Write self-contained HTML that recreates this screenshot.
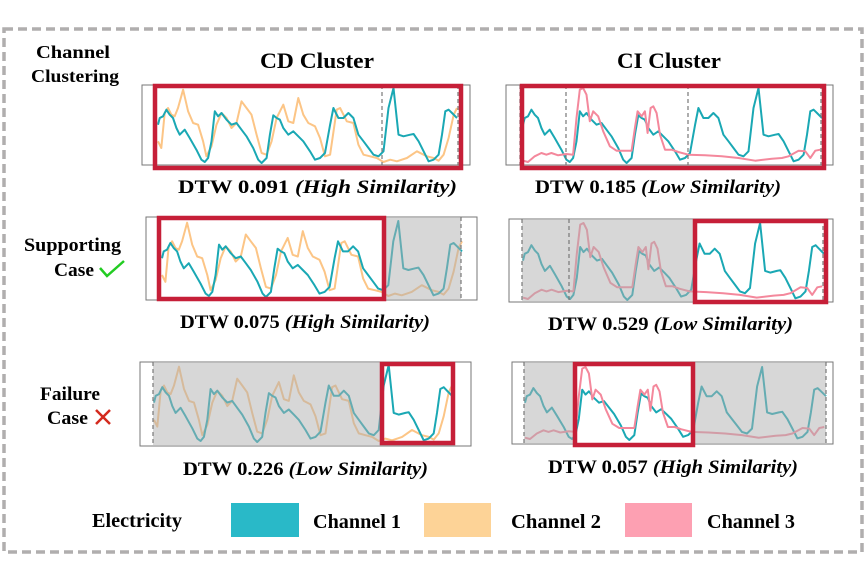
<!DOCTYPE html>
<html><head><meta charset="utf-8">
<style>
body{margin:0;background:#fff;}
svg{display:block;font-family:"Liberation Serif",serif;}
</style></head>
<body>
<svg id="fig" width="866" height="587" viewBox="0 0 866 587" xmlns="http://www.w3.org/2000/svg">
<rect x="4" y="29" width="858" height="523" fill="none" stroke="#b0aeae" stroke-width="3.5" stroke-dasharray="9,5"/>
<text x="36" y="58" font-size="18" font-weight="bold" textLength="74" lengthAdjust="spacingAndGlyphs">Channel</text>
<text x="31" y="82" font-size="18" font-weight="bold" textLength="88" lengthAdjust="spacingAndGlyphs">Clustering</text>
<text x="24" y="251" font-size="19" font-weight="bold" textLength="97" lengthAdjust="spacingAndGlyphs">Supporting</text>
<text x="54" y="276" font-size="19" font-weight="bold" textLength="40" lengthAdjust="spacingAndGlyphs">Case</text>
<path d="M100 268 L107 276 L124 261" fill="none" stroke="#22cc22" stroke-width="2.5"/>
<text x="40" y="400" font-size="19" font-weight="bold" textLength="60" lengthAdjust="spacingAndGlyphs">Failure</text>
<text x="47" y="424" font-size="19" font-weight="bold" textLength="41" lengthAdjust="spacingAndGlyphs">Case</text>
<path d="M96 410 L110 424 M110 410 L96 424" stroke="#d42a1e" stroke-width="2.5"/>
<text x="260" y="68" font-size="22" font-weight="bold" textLength="114" lengthAdjust="spacingAndGlyphs">CD Cluster</text>
<text x="617" y="68" font-size="22" font-weight="bold" textLength="104" lengthAdjust="spacingAndGlyphs">CI Cluster</text>
<g id="panels"></g>
<text x="178" y="193" font-size="19" font-weight="bold" textLength="279" lengthAdjust="spacingAndGlyphs">DTW 0.091 <tspan font-style="italic">(High Similarity)</tspan></text>
<text x="535" y="193" font-size="19" font-weight="bold" textLength="246" lengthAdjust="spacingAndGlyphs">DTW 0.185 <tspan font-style="italic">(Low Similarity)</tspan></text>
<text x="180" y="328" font-size="19" font-weight="bold" textLength="250" lengthAdjust="spacingAndGlyphs">DTW 0.075 <tspan font-style="italic">(High Similarity)</tspan></text>
<text x="548" y="330" font-size="19" font-weight="bold" textLength="245" lengthAdjust="spacingAndGlyphs">DTW 0.529 <tspan font-style="italic">(Low Similarity)</tspan></text>
<text x="183" y="475" font-size="19" font-weight="bold" textLength="245" lengthAdjust="spacingAndGlyphs">DTW 0.226 <tspan font-style="italic">(Low Similarity)</tspan></text>
<text x="548" y="473" font-size="19" font-weight="bold" textLength="250" lengthAdjust="spacingAndGlyphs">DTW 0.057 <tspan font-style="italic">(High Similarity)</tspan></text>
<text x="92" y="527" font-size="20" font-weight="bold" textLength="90" lengthAdjust="spacingAndGlyphs">Electricity</text>
<rect x="231" y="503" width="68" height="34" fill="#29b9c8"/>
<text x="313" y="528" font-size="20" font-weight="bold" textLength="88" lengthAdjust="spacingAndGlyphs">Channel 1</text>
<rect x="424" y="503" width="67" height="34" fill="#fdd397"/>
<text x="511" y="528" font-size="20" font-weight="bold" textLength="90" lengthAdjust="spacingAndGlyphs">Channel 2</text>
<rect x="625" y="503" width="67" height="34" fill="#fda0b2"/>
<text x="707" y="528" font-size="20" font-weight="bold" textLength="88" lengthAdjust="spacingAndGlyphs">Channel 3</text>
</svg>
<script>
// time steps and loads (arbitrary units, time 0..895, load 0..225)
const ch1Time=[0,5,15,25,35,45,55,65,80,95,115,130,140,150,160,170,180,190,205,220,235,250,265,285,300,310,325,335,345,355,365,375,390,405,420,435,455,470,485,500,515,525,540,555,570,585,600,615,630,645,660,675,690,705,720,735,755,765,780,795,810,825,840,850,860,870,880,895];
const ch1Load=[115,135,140,160,145,135,105,85,100,75,40,10,3,15,65,155,140,150,130,115,120,100,80,45,10,0,15,85,143,135,130,105,85,95,80,65,35,10,15,30,115,165,135,135,150,135,85,65,45,25,20,35,165,225,85,80,85,87,65,35,5,10,25,85,155,160,150,135];
const ch2Time=[0,10,20,30,40,50,60,75,90,105,120,135,145,160,175,190,205,220,235,250,265,280,295,310,325,340,355,375,390,405,420,435,450,470,485,500,515,535,545,565,585,600,615,635,655,675,695,715,745,775,805,825,840,855,870,885,895];
const ch2Load=[65,45,150,165,145,140,165,220,155,120,115,65,20,50,115,150,135,105,120,185,165,145,85,30,25,65,135,175,125,120,195,145,120,110,75,20,25,160,165,125,120,55,25,20,15,3,10,5,15,35,20,15,7,25,75,145,165,140];
const ch3Time=[0,15,35,55,70,85,105,130,150,160,170,180,190,200,210,225,240,260,280,305,325,335,343,355,365,373,382,390,400,410,425,445,465,495,545,595,645,695,745,775,795,825,845,860,875,890];
const ch3Load=[7,3,20,30,25,30,23,27,25,135,220,225,205,125,155,140,95,50,37,37,37,105,155,140,155,90,165,170,150,85,40,40,33,25,23,20,15,7,13,15,20,37,35,15,37,40];

const NS="http://www.w3.org/2000/svg";
const g=document.getElementById('panels');
function mk(tag,attrs){const e=document.createElementNS(NS,tag);for(const k in attrs)e.setAttribute(k,attrs[k]);g.appendChild(e);return e;}
const panels=[
 {id:'r1-cd',box:[142,85,470,165],d:[158,457,88,163],series:['c1','c2'],gray:[],dash:[382,458],red:[155,86,461,168]},
 {id:'r1-ci',box:[506,85,833,165],d:[523,822,88,163],series:['c1','c3'],gray:[],dash:[520,566,688,821],red:[522,86,824,168]},
 {id:'r2-cd',box:[146,217,477,300],d:[162,462,221,297],series:['c1','c2'],gray:[[386,461]],dash:[461],red:[159,218,384,299]},
 {id:'r2-ci',box:[509,219,833,302],d:[523,824,223,300],series:['c1','c3'],gray:[[522,693]],dash:[522,569,823],red:[695,221,826,302]},
 {id:'r3-cd',box:[140,362,471,446],d:[154,452,365,442],series:['c1','c2'],gray:[[153,380]],dash:[153],red:[382,364,453,443]},
 {id:'r3-ci',box:[512,362,833,444],d:[525,826,367,440],series:['c1','c3'],gray:[[524,573],[693,826]],dash:[524,826],red:[575,364,693,445]}
];
const S={c1:[ch1Time,ch1Load,'#1aa8b4','channel-1-line'],c2:[ch2Time,ch2Load,'#fcc586','channel-2-line'],c3:[ch3Time,ch3Load,'#f4889c','channel-3-line']};
panels.forEach(p=>{
  const [bx0,by0,bx1,by1]=p.box;
  const bg=mk('rect',{x:bx0,y:by0,width:bx1-bx0,height:by1-by0,fill:'#fff',stroke:'#777','stroke-width':1});
  
  
  const [x0,x1,yt,yb]=p.d;
  const xs=t=>x0+(t/895)*(x1-x0), ys=v=>yb-(v/225)*(yb-yt);
  const order=p.series[1]==='c3'?['c1','c3']:['c2','c1'];
  order.forEach(k=>{
    const [T,L,col,nm]=S[k];
    const d=T.map((t,i)=>(i?'L':'M')+xs(t).toFixed(1)+' '+ys(L[i]).toFixed(1)).join(' ');
    const pth=mk('path',{d:d,fill:'none',stroke:col,'stroke-width':2,'stroke-linejoin':'round'});
    
    
  });
  p.gray.forEach(([a,b])=>{
    const r=mk('rect',{x:a,y:by0+1,width:b-a,height:by1-by0-2,fill:'rgba(175,175,175,0.5)'});
    
    
  });
  p.dash.forEach(x=>{
    const l=mk('line',{x1:x,x2:x,y1:by0,y2:by1,stroke:'#777','stroke-width':1.2,'stroke-dasharray':'4,3'});
    
    
  });
  const [rx0,ry0,rx1,ry1]=p.red;
  const rr=mk('rect',{x:rx0,y:ry0,width:rx1-rx0,height:ry1-ry0,fill:'none',stroke:'#c61f38','stroke-width':4.5});
  
  
});
</script>
</body></html>
